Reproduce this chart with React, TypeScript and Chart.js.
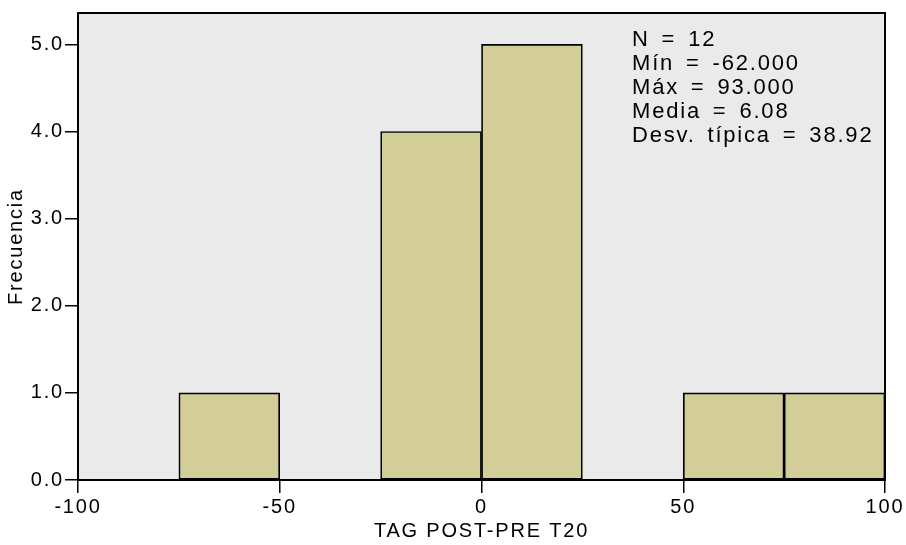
import { useEffect, useRef } from "react";
import { Chart, registerables } from "chart.js";

Chart.register(...registerables);

const binCenters = [-62.5, -12.5, 12.5, 62.5, 87.5];
const binCounts = [1, 4, 5, 1, 1];
const xTicks = [-100, -50, 0, 50, 100];
const yTicks = [0, 1, 2, 3, 4, 5];
const statsLines = ["N = 12", "Mín = -62.000", "Máx = 93.000", "Media = 6.08", "Desv. típica = 38.92"];
const xTitle = "TAG POST-PRE T20";
const yTitle = "Frecuencia";

const FONT = "'Liberation Sans', Arial, Helvetica, sans-serif";

export default function App() {
  const ref = useRef<HTMLCanvasElement | null>(null);

  useEffect(() => {
    document.body.style.margin = "0";
    const canvas = ref.current;
    if (!canvas) return;

    const framePlugin = {
      id: "frame",
      beforeDraw(chart: any) {
        const { ctx, chartArea } = chart;
        ctx.save();
        ctx.fillStyle = "#eaeaea";
        ctx.fillRect(chartArea.left, chartArea.top, chartArea.right - chartArea.left, chartArea.bottom - chartArea.top);
        ctx.restore();
        (ctx as any).letterSpacing = "1.8px";
      },
      afterDatasetsDraw(chart: any) {
        const { ctx, chartArea } = chart;
        ctx.save();
        ctx.strokeStyle = "#000";
        ctx.lineWidth = 2;
        ctx.strokeRect(chartArea.left, chartArea.top, chartArea.right - chartArea.left, chartArea.bottom - chartArea.top);
        ctx.restore();
      },
      afterDraw(chart: any) {
        const { ctx } = chart;
        ctx.save();
        (ctx as any).letterSpacing = "1.8px";
        (ctx as any).wordSpacing = "4px";
        ctx.fillStyle = "#000";
        ctx.font = `22px ${FONT}`;
        ctx.textAlign = "left";
        ctx.textBaseline = "alphabetic";
        statsLines.forEach((line, i) => {
          ctx.fillText(line, 632, 46 + i * 24);
        });
        ctx.restore();
        (ctx as any).letterSpacing = "0px";
      },
    };

    const chart = new Chart(canvas, {
      type: "bar",
      data: {
        datasets: [
          {
            data: binCenters.map((c, i) => ({ x: c, y: binCounts[i] })),
            backgroundColor: "#d3ce98",
            borderColor: "#000",
            borderWidth: 1.7,
            borderSkipped: false,
            barPercentage: 1,
            categoryPercentage: 1,
          },
        ],
      },
      options: {
        animation: false,
        responsive: false,
        maintainAspectRatio: false,
        layout: { padding: { left: 0, top: 11, right: 21, bottom: 0 } },
        plugins: {
          legend: { display: false },
          tooltip: { enabled: false },
        },
        scales: {
          x: {
            type: "linear",
            min: -100,
            max: 100,
            offset: false,
            afterBuildTicks: (s: any) => {
              s.ticks = xTicks.map((v) => ({ value: v }));
            },
            afterFit: (s: any) => {
              s.height = 65;
            },
            ticks: {
              autoSkip: false,
              maxRotation: 0,
              color: "#000",
              padding: 2,
              font: { family: FONT, size: 20 },
              callback: (v: any) => String(v),
            },
            grid: {
              offset: false,
              drawOnChartArea: false,
              drawTicks: true,
              tickLength: 13,
              color: "#000",
              lineWidth: 1.5,
            },
            border: { display: true, color: "#000", width: 2 },
            title: {
              display: true,
              text: xTitle,
              color: "#000",
              font: { family: FONT, size: 20 },
              padding: { top: 2, bottom: 2 },
            },
          },
          y: {
            type: "linear",
            min: 0,
            max: 5.36,
            afterBuildTicks: (s: any) => {
              s.ticks = yTicks.map((v) => ({ value: v }));
            },
            afterFit: (s: any) => {
              s.width = 78;
            },
            ticks: {
              color: "#000",
              padding: 1,
              font: { family: FONT, size: 20 },
              callback: (v: any) => Number(v).toFixed(1),
            },
            grid: {
              drawOnChartArea: false,
              drawTicks: true,
              tickLength: 13,
              color: "#000",
              lineWidth: 1.5,
            },
            border: { display: true, color: "#000", width: 2 },
            title: {
              display: true,
              text: yTitle,
              color: "#000",
              font: { family: FONT, size: 20 },
              padding: { top: 4, bottom: 4 },
            },
          },
        },
      },
      plugins: [framePlugin],
    } as any);

    return () => chart.destroy();
  }, []);

  return (
    <div style={{ width: 906, height: 545 }}>
      <canvas ref={ref} width={906} height={545} style={{ display: "block", width: 906, height: 545 }} />
    </div>
  );
}
